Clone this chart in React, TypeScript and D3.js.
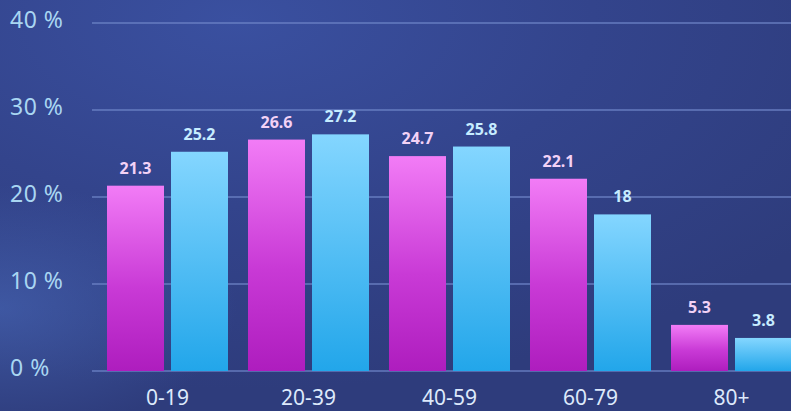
import React from "react";
import * as d3 from "d3";

const categories = ["0-19", "20-39", "40-59", "60-79", "80+"];
const seriesA = [21.3, 26.6, 24.7, 22.1, 5.3];
const seriesB = [25.2, 27.2, 25.8, 18, 3.8];
const yTicks = [0, 10, 20, 30, 40];

const W = 791;
const H = 411;

export default function App() {
  const y = d3.scaleLinear().domain([0, 40]).range([371, 23]);
  const x = d3.scaleBand<string>().domain(categories).range([97, 802]).paddingInner(0).paddingOuter(0);
  const bw = x.bandwidth();
  const barW = 57;
  const gap = 7;
  const font = "'Noto Sans', 'Open Sans', sans-serif";
  return (
    <svg width={W} height={H} style={{ position: "absolute", left: 0, top: 0, display: "block" }}>
      <defs>
        <radialGradient id="bg" cx="0.3" cy="0.05" r="0.9" gradientUnits="objectBoundingBox">
          <stop offset="0" stopColor="#3a50a0" />
          <stop offset="0.5" stopColor="#33448c" />
          <stop offset="1" stopColor="#2e3c7c" />
        </radialGradient>
        <radialGradient id="glow" cx="0" cy="0.75" r="0.3">
          <stop offset="0" stopColor="#4868b8" stopOpacity="0.6" />
          <stop offset="1" stopColor="#4868b8" stopOpacity="0" />
        </radialGradient>
        <linearGradient id="gA" x1="0" y1="0" x2="0" y2="1">
          <stop offset="0" stopColor="#f27cf6" />
          <stop offset="0.55" stopColor="#c93ad6" />
          <stop offset="1" stopColor="#ae1dbe" />
        </linearGradient>
        <linearGradient id="gB" x1="0" y1="0" x2="0" y2="1">
          <stop offset="0" stopColor="#84d6ff" />
          <stop offset="1" stopColor="#22a6ea" />
        </linearGradient>
      </defs>
      <rect x={0} y={0} width={W} height={H} fill="url(#bg)" />
      <rect x={0} y={0} width={W} height={H} fill="url(#glow)" />
      {yTicks.map((t) => (
        <g key={t}>
          <line x1={92} x2={W} y1={y(t)} y2={y(t)} stroke="#6f86c8" strokeWidth={1.5} opacity={0.85} />
          <text x={10} y={y(t) + 5} fill="#a9d6f2" fontSize={23} fontFamily={font} letterSpacing={0.5}>
            {t} %
          </text>
        </g>
      ))}
      {categories.map((c, i) => {
        const cx = (x(c) as number) + bw / 2;
        const xa = cx - gap / 2 - barW;
        const xb = cx + gap / 2;
        return (
          <g key={c}>
            <rect x={xa} y={y(seriesA[i])} width={barW} height={y(0) - y(seriesA[i])} fill="url(#gA)" />
            <rect x={xb} y={y(seriesB[i])} width={barW} height={y(0) - y(seriesB[i])} fill="url(#gB)" />
            <text x={xa + barW / 2} y={y(seriesA[i]) - 12} textAnchor="middle" fill="#f3d2f6" fontSize={16} fontWeight="bold" fontFamily={font}>
              {seriesA[i]}
            </text>
            <text x={xb + barW / 2} y={y(seriesB[i]) - 12} textAnchor="middle" fill="#c6ecff" fontSize={16} fontWeight="bold" fontFamily={font}>
              {seriesB[i]}
            </text>
            <text x={cx} y={405} textAnchor="middle" fill="#dde9fb" fontSize={21} fontFamily={font}>
              {c}
            </text>
          </g>
        );
      })}
    </svg>
  );
}
